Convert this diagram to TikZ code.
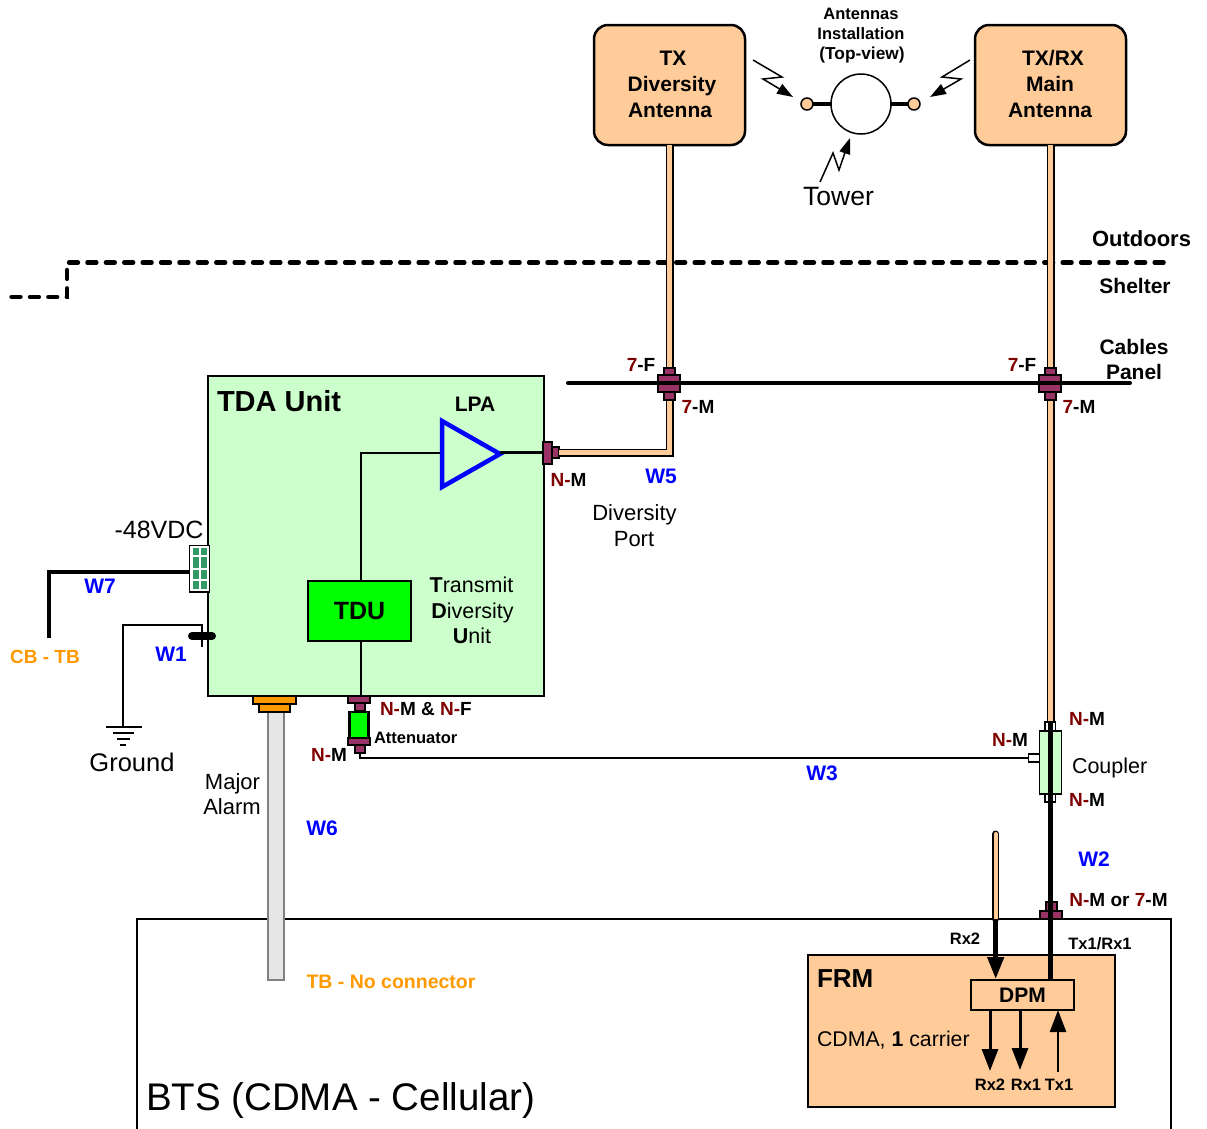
\documentclass[tikz,border=0pt]{standalone}
\usepackage{fontspec}
\setmainfont{Liberation Sans}
\usetikzlibrary{arrows.meta}
\definecolor{peach}{HTML}{FFCC99}
\definecolor{pale}{HTML}{CCFFCC}
\definecolor{lime}{HTML}{00FF00}
\definecolor{plum}{HTML}{993366}
\definecolor{nred}{HTML}{800000}
\definecolor{ambr}{HTML}{FF9900}
\definecolor{wblue}{HTML}{0000FF}
\definecolor{sea}{HTML}{339966}
\definecolor{alarm}{HTML}{E6E6E6}
\newcommand{\fs}[1]{\fontsize{#1}{#1}\selectfont}
\newcommand{\R}[1]{{\color{nred}#1}}
% \bx[style]{name}{x1}{y1}{x2}{y2}{text}
\newcommand{\bx}[7][]{%
  \pgfmathsetmacro{\bxw}{#5-#3}\pgfmathsetmacro{\bxh}{#6-#4}%
  \pgfmathsetmacro{\bxx}{(#3+#5)/2}\pgfmathsetmacro{\bxy}{(#4+#6)/2}%
  \node[box,#1,minimum width=\bxw pt,minimum height=\bxh pt] (#2) at (\bxx,\bxy) {#7};}
\tikzset{
  box/.style={draw=black,line width=2.5pt,inner sep=0pt,outer sep=0pt,rectangle},
  conn/.style={fill=plum,line width=2pt},
  txt/.style={inner sep=0pt,outer sep=0pt,align=center},
  lab/.style={txt,font=\fs{19}\bfseries},
  wlab/.style={txt,font=\fs{21}\bfseries,text=wblue},
  small/.style={txt,font=\fs{16.5}\bfseries},
  reg/.style={txt,font=\fs{22}},
  cable/.style={line width=1.5pt,double=peach,double distance=5pt,line join=miter},
  hwire/.style={line width=4.5pt},
  bolt/.style={line width=1.5pt,-{Triangle[length=16pt,width=11pt]}},
  dot/.style={circle,draw=black,fill=peach,line width=1.5pt,minimum size=12pt,inner sep=0pt,outer sep=0pt},
}
\begin{document}
\begin{tikzpicture}[x=1pt,y=-1pt,line cap=butt]
\useasboundingbox (0,0) rectangle (1207,1128);
% ---- coordinates for free ends and bends
\coordinate (dashR) at (1165,262.5);
\coordinate (dashB) at (67,262.5);
\coordinate (dashC) at (67,297);
\coordinate (dashL) at (11.5,297);
\coordinate (panelL) at (568,383);
\coordinate (panelR) at (1130,383);
\coordinate (w5c) at (669.5,452.5);
% ---- BTS box, open at the bottom
\coordinate (btsA) at (137,1135);
\coordinate (btsB) at (137,919);
\coordinate (btsC) at (1171,919);
\coordinate (btsD) at (1171,1135);
\draw[line width=2.5pt] (btsA) -- (btsB) -- (btsC) -- (btsD);
\node[txt,font=\fs{38.5},anchor=west] (btsT) at (146,1101) {BTS (CDMA - Cellular)};
% ---- boundary
\draw[line width=4.3pt,line cap=round,dash pattern=on 9pt off 9.4pt] (dashL) -- (dashC) -- (dashB) -- (dashR);
\node[txt,font=\fs{22}\bfseries] (outd) at (1141.5,239) {Outdoors};
\node[txt,font=\fs{21}\bfseries] (shel) at (1135,286) {Shelter};
\node[txt,font=\fs{21}\bfseries] (cab1) at (1134,347) {Cables};
\node[txt,font=\fs{21}\bfseries] (cab2) at (1134,372) {Panel};
% ---- antennas
\bx[fill=peach,rounded corners=14pt]{txa}{594}{25}{745}{145}{}
\bx[fill=peach,rounded corners=14pt]{rxa}{975}{25}{1126}{145}{}
\node[txt,font=\fs{21}\bfseries] at (673,58) (txa1) {TX};
\node[txt,font=\fs{21}\bfseries] at (672,86) (txa2) {Diversity};
\node[txt,font=\fs{21}\bfseries] at (670,110) (txa3) {Antenna};
\node[txt,font=\fs{21}\bfseries] at (1053,58) (rxa1) {TX/RX};
\node[txt,font=\fs{21}\bfseries] at (1050,84) (rxa2) {Main};
\node[txt,font=\fs{21}\bfseries] at (1050,110) (rxa3) {Antenna};
% ---- top view
\node[small] (tv1) at (861,14) {Antennas};
\node[small] (tv2) at (861,34) {Installation};
\node[small,font=\fs{17.3}\bfseries] (tv3) at (862,55.5) {(Top-view)};
\node[circle,draw=black,fill=white,line width=1.5pt,minimum size=60pt,inner sep=0pt,outer sep=0pt] (tower) at (861,104) {};
\node[dot] (ant1) at (807,104) {};
\node[dot] (ant2) at (914,104) {};
\draw[line width=4pt] (ant1) -- (tower);
\draw[line width=4pt] (ant2) -- (tower);
\coordinate (b1a) at (753,60); \coordinate (b1b) at (782,77); \coordinate (b1c) at (763,79); \coordinate (b1d) at (793,97);
\coordinate (b2a) at (970,60); \coordinate (b2b) at (942,77); \coordinate (b2c) at (961,79); \coordinate (b2d) at (930,97);
\coordinate (b3a) at (820,182); \coordinate (b3b) at (833,153); \coordinate (b3c) at (839,170); \coordinate (b3d) at (850,138);
\draw[bolt] (b1a) -- (b1b) -- (b1c) -- (b1d);
\draw[bolt] (b2a) -- (b2b) -- (b2c) -- (b2d);
\draw[bolt] (b3a) -- (b3b) -- (b3c) -- (b3d);
\node[txt,font=\fs{26.5}] (towerT) at (838.5,197) {Tower};
% ---- TDA unit
\bx[fill=pale]{tda}{208}{376}{544}{696}{}
\node[txt,font=\fs{29}\bfseries,anchor=west] (tdaT) at (217,401) {TDA Unit};
\bx[fill=lime]{tdu}{308}{581}{411}{641}{\fs{25}\bfseries TDU}
\node[txt,font=\fs{21}\bfseries] (lpaT) at (475,404) {LPA};
\coordinate (lpaIn) at (442,453);
\coordinate (lpaOut) at (500,452.5);
\coordinate (lpaBend) at (361,453);
\draw[line width=2.5pt] (lpaIn) -- (lpaBend) -- (lpaBend |- tdu.north);
\draw[blue,line width=4.5pt,fill=pale,line join=miter] (442,421) -- (500,454) -- (442,487) -- cycle;
\node[txt,font=\fs{21.5}] (t1) at (471.5,585) {\textbf{T}ransmit};
\node[txt,font=\fs{21.5}] (t2) at (472.5,613) {\textbf{D}iversity};
\node[txt,font=\fs{21.5}] (t3) at (472,636) {\textbf{U}nit};
% ---- cables
\bx[conn]{dpn}{552}{447}{559}{458}{}
\draw[cable] (txa.south) -- (w5c) -- (dpn.east);
\bx[conn]{pcl}{664}{368}{675}{400}{}
\bx[conn]{pclw}{658}{375}{680}{392}{}
\draw[cable] (rxa.south) -- (1050.5,722);
\bx[conn]{pcr}{1045}{368}{1056}{400}{}
\bx[conn]{pcrw}{1039}{375}{1061}{392}{}
\draw[line width=4pt,line cap=round] (panelL) -- (panelR);
\bx[conn]{dpw}{543}{441.5}{552}{463.5}{}
\draw[line width=2.5pt] (lpaOut) -- (dpw.west);
% labels
\node[lab] (l7f1) at (641,365) {\R{7}-F};
\node[lab] (l7m1) at (698,407) {\R{7}-M};
\node[lab] (l7f2) at (1022,365) {\R{7}-F};
\node[lab] (l7m2) at (1079,407) {\R{7}-M};
\node[lab] (lnm) at (568.5,480) {\R{N-}M};
\node[wlab] (w5) at (661,476) {W5};
\node[reg] (dp1) at (634.5,515) {Diversity};
\node[reg] (dp2) at (634,539) {Port};
% ---- power and ground
\bx[fill=white,line width=1.5pt]{pw}{189.5}{545.5}{209.5}{592}{}
\foreach \xa/\xb in {192.7/199.3,201/207.3}
  \foreach \ya/\yb in {548/555,557/568,570/579.3,581.3/589}
    \fill[sea] (\xa,\ya) rectangle (\xb,\yb);
\node[txt,font=\fs{25}] (vdc) at (159,530) {-48VDC};
\coordinate (w7b) at (49,572);
\coordinate (w7e) at (49,638);
\draw[hwire,line join=miter] (pw.west |- 0,572) -- (w7b) -- (w7e);
\node[wlab] (w7) at (100,586) {W7};
\node[lab,text=ambr] (cb) at (45,657) {CB - TB};
\coordinate (pillL) at (192,636);
\coordinate (pillR) at (212,636);
\coordinate (w1a) at (202,647);
\coordinate (w1b) at (202,625);
\coordinate (w1c) at (123,625);
\coordinate (gnd) at (123,727);
\draw[line width=2pt] (w1a) -- (w1b) -- (w1c) -- (gnd);
\draw[line width=8pt,line cap=round] (pillL) -- (pillR);
\node[wlab] (w1) at (171,654) {W1};
\draw[line width=2.5pt] (106,727) -- (142,727);
\draw[line width=2pt] (113,733) -- (134,733);
\draw[line width=2pt] (117,739) -- (130,739);
\draw[line width=2pt] (120,745) -- (126,745);
\node[txt,font=\fs{25.5}] (gndT) at (132,762) {Ground};
% ---- major alarm
\bx[fill=alarm,draw=gray,line width=2pt]{mal}{268}{712}{284}{980}{}
\bx[fill=ambr]{ma1}{253}{696}{296}{704}{}
\bx[fill=ambr]{ma2}{259}{704}{290}{712}{}
\node[reg] (mj1) at (232.5,784) {Major};
\node[reg] (mj2) at (232,807) {Alarm};
\node[wlab] (w6) at (322,828) {W6};
\node[txt,text=ambr,font=\fs{19.5}\bfseries] (tb) at (391,982) {TB - No connector};
% ---- attenuator
\draw[line width=2.5pt] (tdu.south -| lpaBend) -- (lpaBend |- tda.south);
\bx[fill=lime]{att}{349.5}{712}{368.5}{738}{}
\bx[conn]{a2}{355}{703}{365}{711}{}
\bx[conn]{a1}{348}{696}{370}{703}{}
\bx[conn]{a4}{355}{745}{365}{753}{}
\bx[conn]{a3}{348}{738}{370}{745}{}
\node[lab,anchor=west] (lnf) at (380,709) {\R{N-}M \& \R{N-}F};
\node[small,anchor=west] (lat) at (374,738) {Attenuator};
\node[lab] (lnm2) at (329,755) {\R{N-}M};
% ---- coupler
\bx[fill=white,line width=1.5pt]{ct}{1045}{722}{1055.5}{731}{}
\bx[fill=white,line width=1.5pt]{cb2}{1045}{794}{1055.5}{802}{}
\bx[fill=pale,line width=1.5pt]{cpl}{1039.5}{731}{1061.5}{794}{}
\bx[fill=white,line width=1.5pt]{cs}{1028.5}{754}{1039.5}{762}{}
\coordinate (w3b) at (360,758);
\draw[line width=2.5pt] (a4.south) -- (w3b) -- (cs.west);
\node[wlab] (w3) at (822,773) {W3};
\node[lab] (lc1) at (1087,719) {\R{N-}M};
\node[lab] (lc2) at (1010,740) {\R{N-}M};
\node[lab] (lc3) at (1087,800) {\R{N-}M};
\node[txt,font=\fs{21.5},anchor=west] (cplT) at (1072,768) {Coupler};
\node[wlab] (w2) at (1094,859) {W2};
% ---- FRM
\bx[fill=peach]{frm}{808}{955}{1115}{1107}{}
\node[txt,font=\fs{26}\bfseries,anchor=west] (frmT) at (817,979) {FRM};
\node[txt,font=\fs{21.3},anchor=west] (cdma) at (817,1040) {CDMA, \textbf{1} carrier};
\bx[fill=peach]{dpm}{971}{980}{1074}{1010}{\fs{21}\bfseries DPM}
\bx[conn]{fc2}{1046}{902}{1057}{911}{}
\bx[conn]{fc1}{1040}{911}{1062}{919}{}
\draw[line width=4.5pt] (ct.north) -- (ct.north |- dpm.north);
\coordinate (rxTop) at (995.7,834);
\coordinate (rxMid) at (995.7,919);
\coordinate (rxTip) at (995.7,979);
\draw[line width=1.5pt,double=peach,double distance=4pt,line cap=round] (rxTop) -- (rxMid);
\draw[line width=4.5pt,-{Triangle[length=22pt,width=16pt]}] (rxMid) -- (rxTip);
\draw[line width=3pt,-{Triangle[length=22pt,width=16pt]}] (dpm.south -| 990,0) -- (990,1071);
\draw[line width=3pt,-{Triangle[length=22pt,width=16pt]}] (dpm.south -| 1020,0) -- (1020,1070);
\draw[line width=2.5pt,-{Triangle[length=22pt,width=16pt]}] (1058,1072) -- (dpm.south -| 1058,0);
\node[lab] (lfn) at (1118.5,900) {\R{N-}M or \R{7}-M};
\node[small] (lrx) at (965,939) {Rx2};
\node[small] (ltx) at (1100,944) {Tx1/Rx1};
\node[small] (o1) at (990,1085) {Rx2};
\node[small] (o2) at (1026,1085) {Rx1};
\node[small] (o3) at (1059,1085) {Tx1};
\end{tikzpicture}
\end{document}
